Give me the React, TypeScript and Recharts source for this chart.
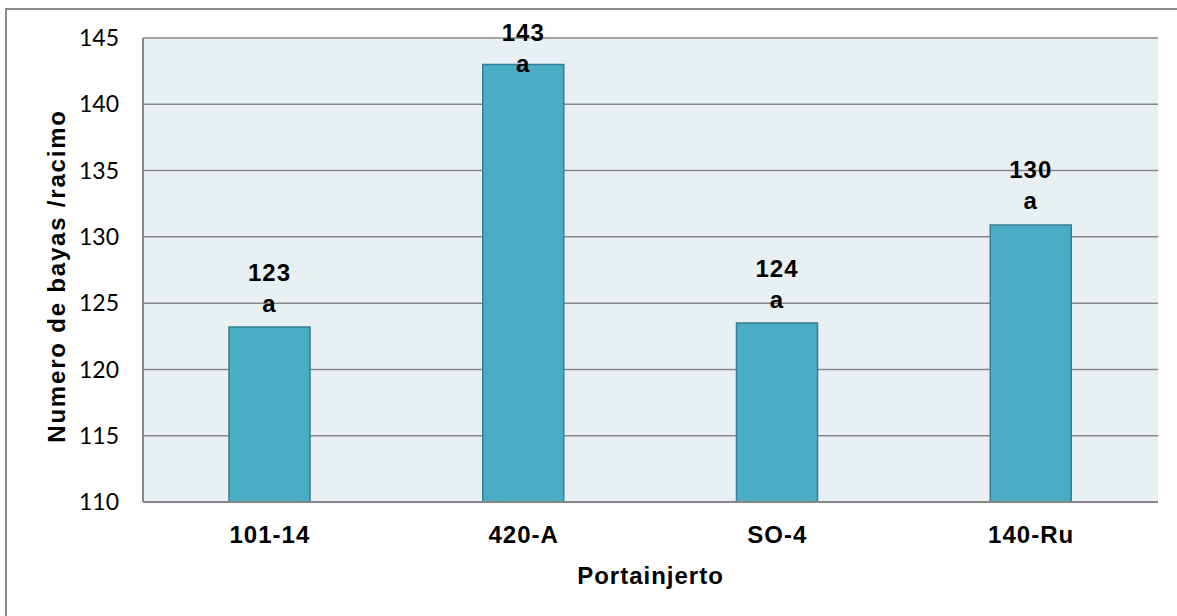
import { Bar, BarChart, CartesianGrid, LabelList, XAxis, YAxis } from "recharts";

const categories = ["101-14", "420-A", "SO-4", "140-Ru"];
const values = [123.2, 143.0, 123.5, 130.9];
const valueLabels = ["123", "143", "124", "130"];
const groupLetters = ["a", "a", "a", "a"];
const yTicks = [110, 115, 120, 125, 130, 135, 140, 145];

const data = categories.map((name, i) => ({
  name,
  value: values[i],
  label: valueLabels[i],
  letter: groupLetters[i],
}));

const boldFont = "'Liberation Sans', Arial, sans-serif";

const BarLabel = (props: any) => {
  const { x, y, width, index } = props;
  const cx = x + width / 2;
  const line1 = Math.max(y - 55, 32);
  const line2 = line1 + 31;
  return (
    <g fontFamily={boldFont} fontWeight="bold" fontSize={24} fill="#000" letterSpacing={1}>
      <text x={cx} y={line1} textAnchor="middle" dominantBaseline="central">
        {data[index].label}
      </text>
      <text x={cx} y={line2} textAnchor="middle" dominantBaseline="central">
        {data[index].letter}
      </text>
    </g>
  );
};

export default function App() {
  return (
    <div
      style={{
        position: "fixed",
        left: 0,
        top: 0,
        width: 1177,
        height: 616,
        overflow: "hidden",
        background: "#fff",
      }}
    >
      <div
        style={{
          position: "absolute",
          left: 5,
          top: 8,
          width: 1250,
          height: 700,
          border: "2px solid #8a8a8a",
          boxSizing: "border-box",
        }}
      />
      <div style={{ position: "absolute", left: 0, top: 0 }}>
        <BarChart
          width={1177}
          height={616}
          data={data}
          margin={{ top: 38, right: 19, bottom: 84, left: 0 }}
        >
          <CartesianGrid
            vertical={false}
            fill="#E9F0F4"
            stroke="#878787"
            strokeWidth={1.5}
          />
          <XAxis
            dataKey="name"
            height={30}
            axisLine={{ stroke: "#878787", strokeWidth: 2 }}
            tickLine={false}
            tickSize={0}
            tickMargin={24}
            tick={{
              fill: "#000",
              fontFamily: boldFont,
              fontWeight: "bold",
              fontSize: 24,
              letterSpacing: 1,
            }}
            label={{
              content: ({ viewBox }: any) => (
                <text
                  x={viewBox.x + viewBox.width / 2}
                  y={viewBox.y + 73}
                  textAnchor="middle"
                  dominantBaseline="central"
                  fontFamily={boldFont}
                  fontWeight="bold"
                  fontSize={24}
                  letterSpacing={1}
                  fill="#000"
                >
                  Portainjerto
                </text>
              ),
            }}
          />
          <YAxis
            width={143}
            domain={[110, 145]}
            ticks={yTicks}
            interval={0}
            allowDataOverflow
            axisLine={{ stroke: "#878787", strokeWidth: 2 }}
            tickLine={false}
            tickSize={0}
            tickMargin={24}
            tick={{ fill: "#000", fontFamily: "Lato, Carlito, sans-serif", fontSize: 23 }}
            label={{
              content: ({ viewBox }: any) => {
                const cx = viewBox.x + 56;
                const cy = viewBox.y + viewBox.height / 2 + 6;
                return (
                  <text
                    x={cx}
                    y={cy}
                    transform={`rotate(-90 ${cx} ${cy})`}
                    textAnchor="middle"
                    dominantBaseline="central"
                    fontFamily={boldFont}
                    fontWeight="bold"
                    fontSize={24}
                    letterSpacing={1.8}
                    fill="#000"
                  >
                    Numero de bayas /racimo
                  </text>
                );
              },
            }}
          />
          <Bar
            dataKey="value"
            fill="#4BACC6"
            stroke="#357E93"
            strokeWidth={1.5}
            barSize={81}
            isAnimationActive={false}
          >
            <LabelList dataKey="value" content={<BarLabel />} />
          </Bar>
        </BarChart>
      </div>
    </div>
  );
}
